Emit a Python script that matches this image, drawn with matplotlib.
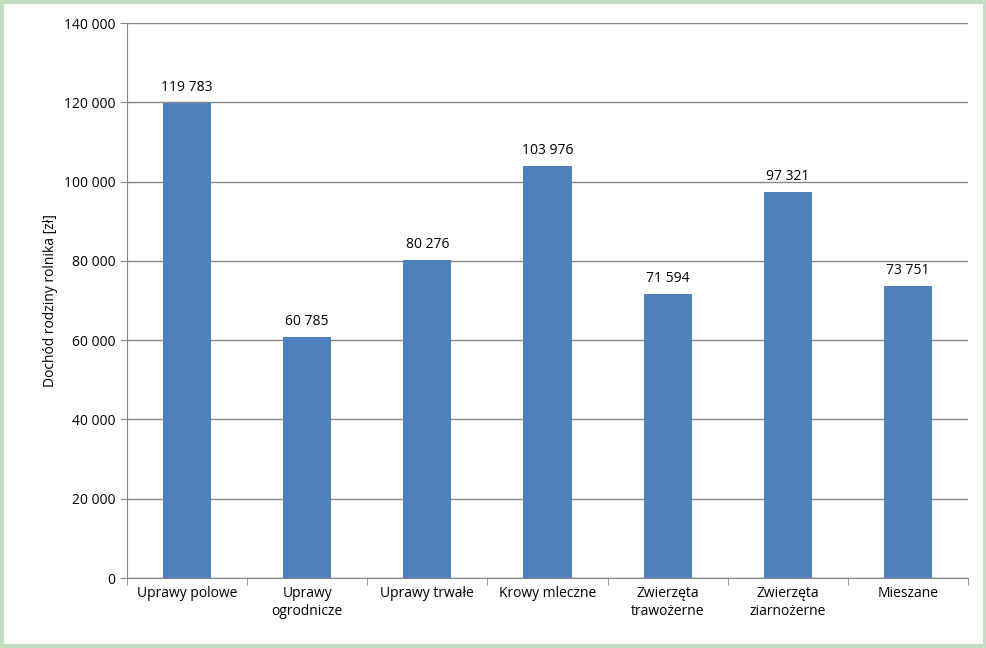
import matplotlib
matplotlib.use("Agg")
import matplotlib.pyplot as plt
from matplotlib.patches import Rectangle
import numpy as np

categories = ["Uprawy polowe", "Uprawy\nogrodnicze", "Uprawy trwałe", "Krowy mleczne",
              "Zwierzęta\ntrawożerne", "Zwierzęta\nziarnożerne", "Mieszane"]
values = [119783, 60785, 80276, 103976, 71594, 97321, 73751]
yticks = [0, 20000, 40000, 60000, 80000, 100000, 120000, 140000]

def fmt(v):
    return f"{v:,}".replace(",", " ")

plt.rcParams['font.family'] = ['Open Sans', 'DejaVu Sans']
fig = plt.figure(figsize=(9.87, 6.48), dpi=100)
fig.patches.append(Rectangle((0.002, 0.003), 0.996, 0.994, transform=fig.transFigure,
                             fill=False, edgecolor="#C3DEC3", linewidth=3))
ax = fig.add_axes([0.1287, 0.108, 0.852, 0.8565])
x = np.arange(len(categories))
ax.bar(x, values, width=0.4, color="#4F81BD", zorder=3)
for xi, v in zip(x, values):
    ax.text(xi, v + 2000, fmt(v), ha="center", va="bottom", fontsize=10)
ax.set_ylim(0, 140000)
ax.set_xlim(-0.5, len(categories) - 0.5)
ax.set_yticks(yticks)
ax.set_yticklabels([fmt(t) for t in yticks], fontsize=10)
ax.set_xticks(x)
ax.set_xticklabels(categories, fontsize=10)
ax.tick_params(axis="x", length=0, pad=6)
ax.set_xticks(np.arange(-0.5, len(categories), 1), minor=True)
ax.tick_params(axis="x", which="minor", length=5, color="#868686")
ax.tick_params(axis="y", length=5, color="#868686")
ax.grid(axis="y", color="#868686", linewidth=1, zorder=0)
for s in ["top", "right"]:
    ax.spines[s].set_visible(False)
for s in ["left", "bottom"]:
    ax.spines[s].set_color("#868686")
ax.set_ylabel("Dochód rodziny rolnika [zł]", fontsize=10)
fig.savefig("out.png", dpi=100)
